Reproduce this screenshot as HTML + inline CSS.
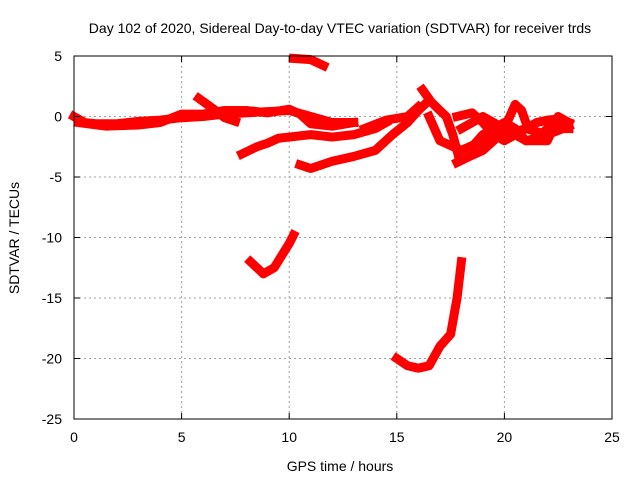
<!DOCTYPE html>
<html><head><meta charset="utf-8"><style>
body{margin:0;background:#fff}
svg text{font-family:"Liberation Sans",sans-serif;font-size:14px;fill:#000}
</style></head><body>
<svg width="640" height="480">
<rect width="640" height="480" fill="#fff"/>
<g id="grid"></g>
<g id="series"></g>
<rect x="74" y="56" width="538" height="363" fill="none" stroke="#000" stroke-width="1"/>
<g id="axes"></g>
<text x="340" y="33" text-anchor="middle">Day 102 of 2020, Sidereal Day-to-day VTEC variation (SDTVAR) for receiver trds</text>
<text x="340" y="471" text-anchor="middle">GPS time / hours</text>
<text x="19" y="238" text-anchor="middle" transform="rotate(-90 19 238)">SDTVAR / TECUs</text>
</svg>
<script>
const xTicks=[0,5,10,15,20,25];
const yTicks=[-25,-20,-15,-10,-5,0,5];
const track1=[[0,0],[0.5,-0.5],[1,-0.6],[2,-0.6],[3,-0.4],[4,-0.3],[5,-0.1],[6,0],[7,0.2],[8,0.3],[9,0.4],[10,0.5],[11,0],[12,-0.5],[13,-0.5]];
const track2=[[0.2,-0.5],[1.5,-0.8],[3,-0.7],[4,-0.5],[5,0.2],[6,0.2],[7,0.5],[8,0.5],[9,0.3],[10,0.6],[10.5,0.2],[11,-0.6],[12,-0.8],[13,-0.5]];
const track3=[[5.8,1.5],[6.5,0.6],[7,-0.1],[7.5,-0.4]];
const track4=[[7.8,-3.1],[8.5,-2.5],[9,-2.2],[9.5,-1.8],[10,-1.7],[11,-1.5],[12,-1.7],[13,-1.5],[14,-1],[14.5,-0.5]];
const track5=[[10.5,-4],[11,-4.3],[12,-3.7],[13,-3.3],[14,-2.8],[14.8,-1.5],[15.5,-0.5],[16,0.5],[16.3,1]];
const track6=[[10.2,4.8],[11,4.7],[11.6,4.2]];
const track7=[[16.2,2.2],[16.6,1.2],[17,0.5],[17.3,0],[17.6,-1.5],[17.9,-3.5]];
const track8=[[17.8,-3.8],[18.5,-3.2],[19,-2.8],[19.5,-2],[20,-1],[20.5,1],[20.8,0.5],[21,-0.5]];
const track9=[[16.5,0],[17,-2],[18,-2.8],[19,-2],[20,-1.5],[21,-1],[22,-1.5],[23,-0.8]];
const track10=[[18,-1],[19,0],[20,-1],[21,-2],[22,-2],[22.5,0],[23,-0.5]];
const track11=[[13.5,-1],[14.5,-0.3],[15.5,0],[16,0.8]];
const track12=[[8.2,-12],[8.8,-13],[9.3,-12.5],[10,-10.5],[10.2,-9.8]];
const track13=[[15,-20],[15.5,-20.6],[16,-20.8],[16.5,-20.6],[17,-19],[17.5,-18],[17.8,-15],[18,-12]];
const track14=[[17.8,0],[18.5,0.3],[19,-0.5],[19.5,-1.5],[20,-2],[20.5,-1.5],[21,-1],[21.5,-0.5],[22,-0.3],[22.5,-0.2],[23,-0.5]];
const track15=[[18.5,-2.5],[19,-1.5],[19.5,-1],[20,-0.5],[20.5,-1],[21,-2],[21.5,-1.8],[22,-1],[23,-1]];
const tracks=[track1,track2,track3,track4,track5,track6,track7,track8,track9,track10,track11,track12,track13,track14,track15];
const NS="http://www.w3.org/2000/svg";
const X=v=>74+v*538/25, Y=v=>116.5-v*363/30;
const grid=document.getElementById('grid'),axes=document.getElementById('axes'),ser=document.getElementById('series');
function mk(t,a,p){const e=document.createElementNS(NS,t);for(const k in a)e.setAttribute(k,a[k]);p.appendChild(e);return e;}
xTicks.forEach(t=>{const x=X(t);
 if(t>0&&t<25){const l=mk('line',{x1:x,x2:x,y1:56,y2:419,stroke:'#a0a0a0','stroke-dasharray':'2,3'},grid);}
 mk('line',{x1:x,x2:x,y1:419,y2:413,stroke:'#000'},axes);mk('line',{x1:x,x2:x,y1:56,y2:62,stroke:'#000'},axes);
 const tx=mk('text',{x:x,y:442,'text-anchor':'middle'},axes);tx.textContent=t;
 });
yTicks.forEach(t=>{const y=Y(t);
 if(t>-25&&t<5){const l=mk('line',{x1:74,x2:612,y1:y,y2:y,stroke:'#a0a0a0','stroke-dasharray':'2,3'},grid);}
 mk('line',{x1:74,x2:80,y1:y,y2:y,stroke:'#000'},axes);mk('line',{x1:606,x2:612,y1:y,y2:y,stroke:'#000'},axes);
 const tx=mk('text',{x:62,y:y+5,'text-anchor':'end'},axes);tx.textContent=t;
 });
tracks.forEach(tr=>{const p=mk('polyline',{points:tr.map(d=>X(d[0])+','+Y(d[1])).join(' '),fill:'none',stroke:'#ff0000','stroke-width':9,'stroke-linejoin':'round','stroke-linecap':'square'},ser);
 });
</script>
</body></html>
